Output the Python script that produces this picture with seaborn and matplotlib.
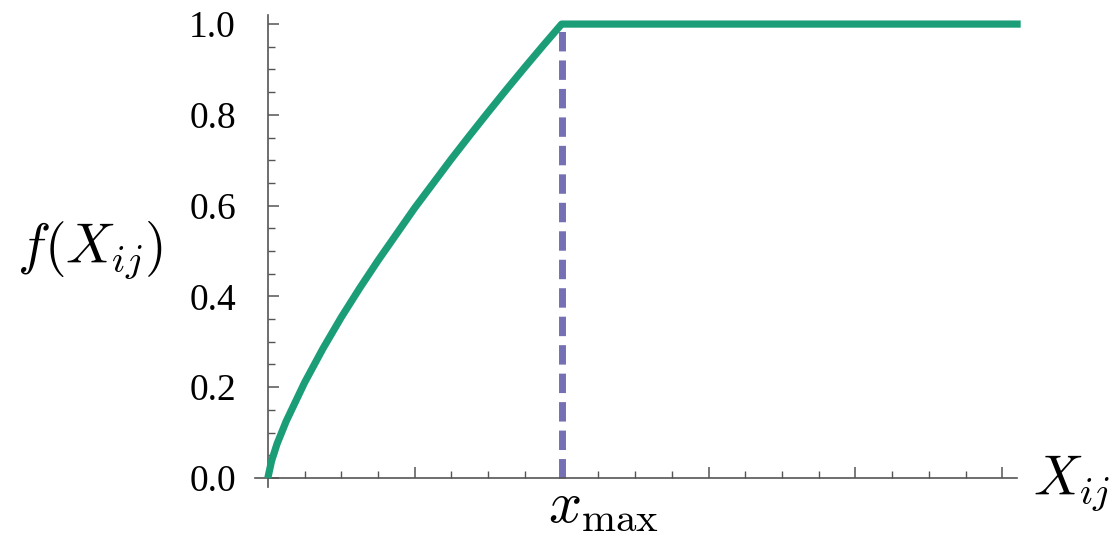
import numpy as np
import pandas as pd
import matplotlib
matplotlib.use('Agg')
import matplotlib.pyplot as plt
import seaborn as sns

# tocke ocitane sa slike (x u jedinicama osi, x_max = 8)
x_vals = [0, 0.1, 0.25, 0.5, 1, 1.5, 2, 2.5, 3, 3.5, 4, 4.5, 5, 5.5, 6, 6.5, 7, 7.5, 8, 20.5]
f_vals = [0, 0.037, 0.075, 0.125, 0.21, 0.285, 0.354, 0.418, 0.479, 0.537, 0.595, 0.649,
          0.703, 0.755, 0.806, 0.856, 0.905, 0.953, 1.0, 1.0]
x_max = 8
y_ticks = [0.0, 0.2, 0.4, 0.6, 0.8, 1.0]
y_labels = ['0.0', '0.2', '0.4', '0.6', '0.8', '1.0']

sns.set_theme(style='white')
plt.rcParams['font.family'] = ['Liberation Serif', 'DejaVu Serif']
plt.rcParams['mathtext.fontset'] = 'cm'

df = pd.DataFrame({'x': x_vals, 'f': f_vals})
dash = pd.DataFrame({'x': [x_max, x_max], 'f': [0, 1]})

fig = plt.figure(figsize=(11.12, 5.39), dpi=100)
ax = fig.add_axes([255/1112, 1-487/539, (1017-255)/1112, (487-15)/539])

sns.lineplot(data=dash, x='x', y='f', ax=ax, color='#7570b3', lw=5,
             estimator=None, sort=False, linestyle=(0, (2.8, 1.3)), zorder=2)
sns.lineplot(data=df, x='x', y='f', ax=ax, color='#1b9e77', lw=5.2,
             estimator=None, clip_on=False, zorder=3, solid_capstyle='butt')

ax.set_xlim(-0.35, 20.4)
ax.set_ylim(-0.02, 1.02)

for s in ['top', 'right']:
    ax.spines[s].set_visible(False)
ax.spines['left'].set_position(('data', 0))
ax.spines['bottom'].set_position(('data', 0))
for s in ['left', 'bottom']:
    ax.spines[s].set_color('#555555')
    ax.spines[s].set_linewidth(1.2)

ax.set_xticks(np.arange(0, 21, 4))
ax.set_xticks(np.arange(0, 21, 1), minor=True)
ax.set_xticklabels([])
ax.set_yticks(y_ticks)
ax.set_yticklabels(y_labels)
ax.set_yticks(np.arange(0, 1.01, 0.05), minor=True)
ax.tick_params(which='major', direction='in', length=8, width=1.1, color='#555555',
               labelsize=27, labelcolor='black', left=True, bottom=True, pad=23)
ax.tick_params(which='minor', direction='in', length=5, width=1.0, color='#555555',
               left=True, bottom=True)
ax.set_xlabel('')
ax.set_ylabel('')

fig.text(90/1112, 1-250/539, r'$f(X_{ij})$', fontsize=40, ha='center', va='center',
         color='black')
fig.text(1033/1112, 1-495/539, r'$X_{ij}$', fontsize=40, ha='left', va='baseline',
         color='black')
fig.text(548/1112, 1-522/539, r'$x_{\max}$', fontsize=42, ha='left', va='baseline',
         color='black')

fig.savefig('out.png', dpi=100)
